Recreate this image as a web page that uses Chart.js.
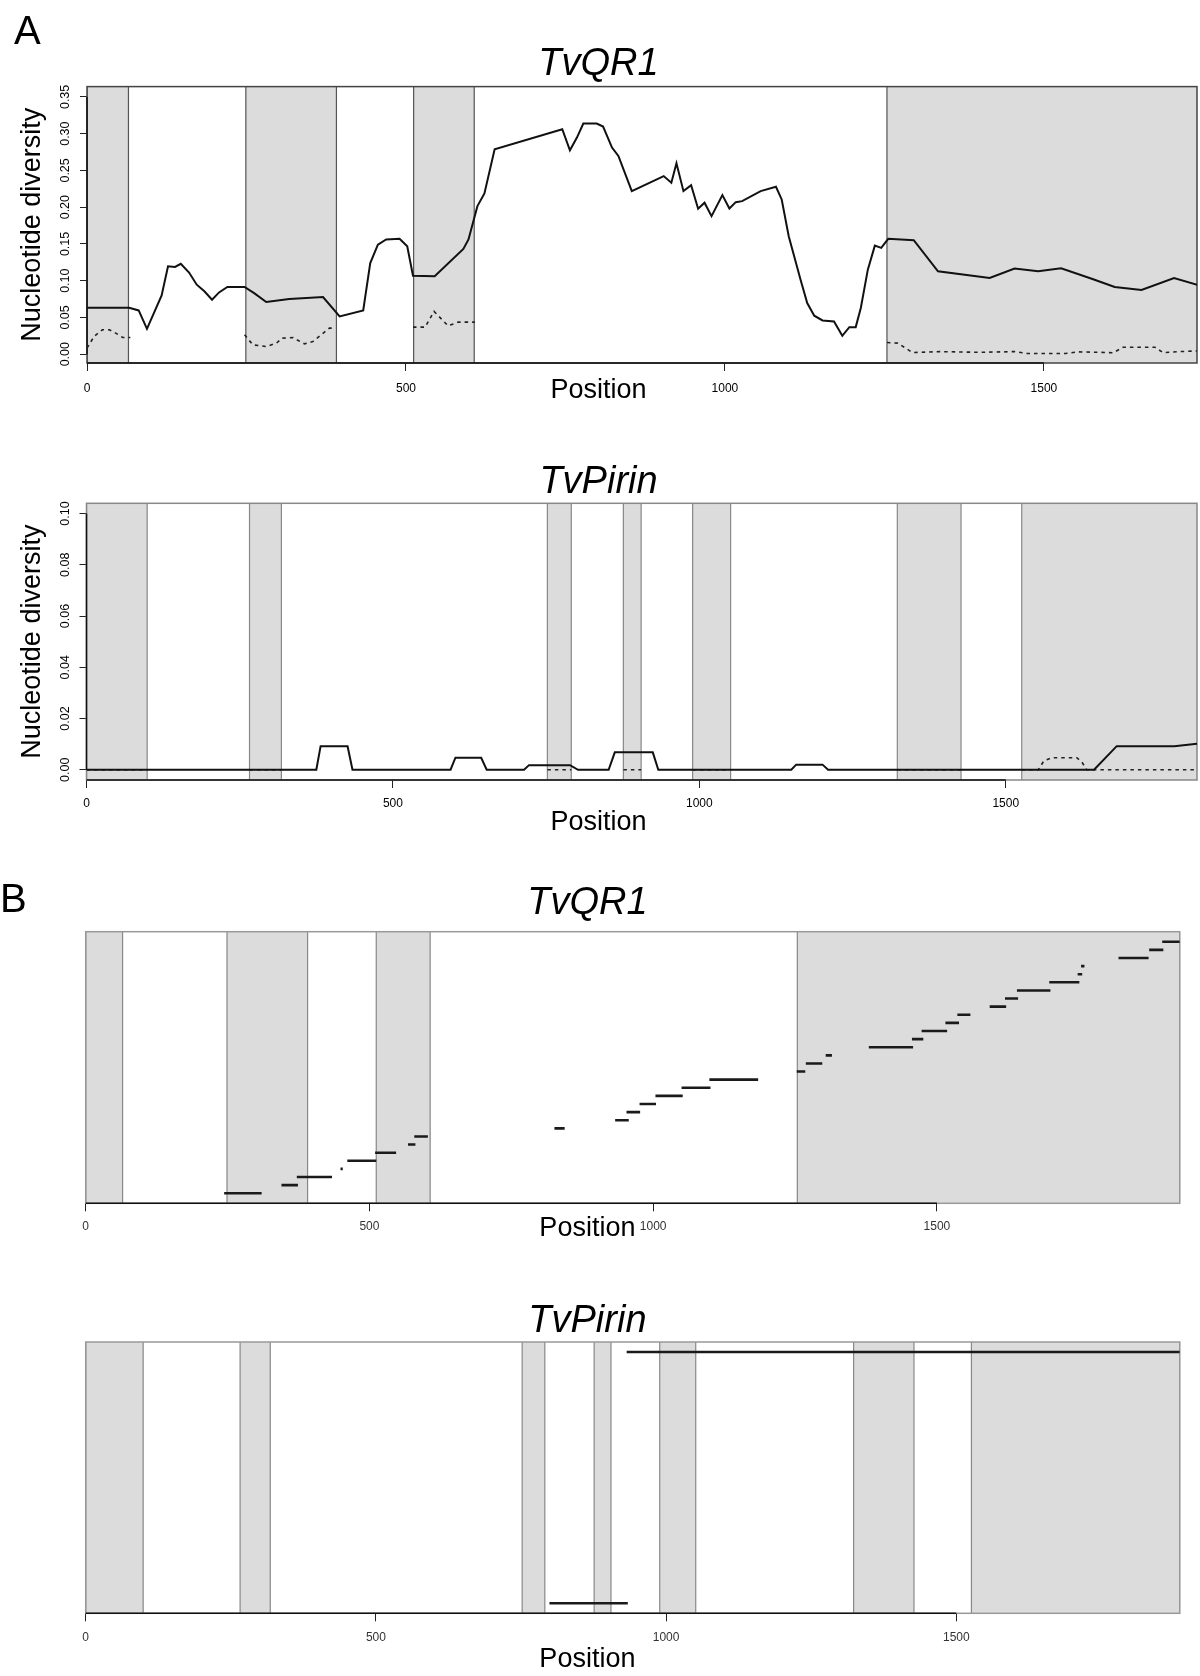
<!DOCTYPE html>
<html>
<head>
<meta charset="utf-8">
<script src="https://cdn.jsdelivr.net/npm/chart.js@4.4.1/dist/chart.umd.min.js"></script>
<style>
  html, body { margin: 0; padding: 0; background: #fff; }
  body { width: 1200px; height: 1676px; position: relative; overflow: hidden; font-family: "Liberation Sans", Arial, sans-serif; }
  .box { position: absolute; left: 0; width: 1200px; }
  .boxB { position: absolute; left: -5px; width: 1205px; }
  .tag { position: absolute; font-size: 40px; line-height: 40px; color: #000; }
</style>
</head>
<body>
<div class="box" style="top:0px; height:420px"><canvas id="qr1Diversity" width="1200" height="420"></canvas></div>
<div class="box" style="top:420px; height:440px"><canvas id="pirinDiversity" width="1200" height="440"></canvas></div>
<div class="boxB" style="top:860px; height:400px"><canvas id="qr1Blocks" width="1205" height="400"></canvas></div>
<div class="boxB" style="top:1260px; height:416px"><canvas id="pirinBlocks" width="1205" height="416"></canvas></div>
<div class="tag" style="left:14px; top:10px">A</div>
<div class="tag" style="left:0px; top:878px">B</div>
<script>
'use strict';

// ---- TvQR1: nucleotide diversity (solid line)
const qr1Pos = [0, 66, 81, 94, 117, 127, 138, 147, 160, 172, 184, 196, 207, 220, 247, 262, 281, 317, 370, 396,
  433, 444, 456, 469, 490, 502, 511, 545, 590, 598, 612, 623, 639, 745, 757, 768, 778, 799, 809, 823,
  833, 854, 904, 916, 924, 935, 947, 958, 968, 979, 996, 1007, 1017, 1027, 1056, 1080, 1089, 1100, 1119, 1129,
  1140, 1153, 1171, 1184, 1195, 1205, 1213, 1224, 1235, 1245, 1256, 1296, 1334, 1415, 1454, 1491, 1527, 1575, 1611, 1653,
  1704, 1743];
const qr1Solid = [0.063, 0.063, 0.0595, 0.0345, 0.080, 0.1195, 0.1187, 0.123, 0.111, 0.0945, 0.0855, 0.074, 0.084, 0.0914, 0.0914, 0.083, 0.071, 0.075, 0.0777, 0.0513,
  0.0595, 0.124, 0.149, 0.156, 0.157, 0.1468, 0.1068, 0.1059, 0.1432, 0.156, 0.2014, 0.2187, 0.2787, 0.306, 0.2773, 0.2947, 0.3138, 0.3138, 0.3097, 0.281,
  0.2696, 0.2218, 0.2423, 0.2333, 0.2596, 0.2218, 0.23, 0.1978, 0.206, 0.1877, 0.2164, 0.1982, 0.2068, 0.2082, 0.2218, 0.2278, 0.2105, 0.1605, 0.1, 0.0696,
  0.0523, 0.0459, 0.0445, 0.025, 0.0368, 0.0368, 0.0628, 0.115, 0.1477, 0.1446, 0.1569, 0.155, 0.1127, 0.1037, 0.1164, 0.1127, 0.1168, 0.1027, 0.0914, 0.0873,
  0.1037, 0.0936];

// TvQR1: dashed line, only inside the shaded regions (null = gap)
const qr1DashPos = [0, 11, 24, 35, 45, 56, 68, 150, 247, 260, 281, 297, 306, 323, 341, 354, 367, 380, 389, 450,
  511, 530, 544, 566, 582, 608, 900, 1254, 1271, 1294, 1337, 1400, 1454, 1474, 1533, 1554, 1609, 1624, 1674, 1687,
  1713, 1743];
const qr1Dashed = [0.0082, 0.024, 0.0332, 0.0332, 0.0287, 0.0227, 0.0227, null, 0.0263, 0.0127, 0.0104, 0.015, 0.0218, 0.0225, 0.014, 0.0172, 0.0263, 0.0354, 0.0354, null,
  0.0368, 0.0368, 0.0582, 0.0386, 0.0436, 0.0436, null, 0.0159, 0.015, 0.0022, 0.0035, 0.0025, 0.0035, 0.0009, 0.0009, 0.0032, 0.002, 0.0095, 0.0095, 0.002,
  0.0035, 0.0045];

// ---- TvPirin: nucleotide diversity
const pirPos = [0, 375, 382, 426, 434, 594, 602, 644, 653, 714, 722, 789, 802, 852, 862, 924, 933, 1150, 1158, 1201, 1210, 1644, 1681, 1775, 1812];
const pirSolid = [0, 0, 0.0092, 0.0092, 0, 0, 0.0047, 0.0047, 0, 0, 0.0018, 0.0018, 0, 0, 0.0068, 0.0068, 0, 0, 0.002, 0.002, 0, 0, 0.0092, 0.0092, 0.0102];
const pirDashPos = [0, 99, 180, 266, 318, 500, 752, 791, 840, 876, 905, 950, 989, 1051, 1200, 1323, 1427, 1480, 1526, 1553, 1562, 1575, 1616, 1625, 1632, 1812];
const pirDashed = [0, 0, null, 0, 0, null, 0, 0, null, 0, 0, null, 0, 0, null, 0, 0, null, 0, 0, 0.0034, 0.0047, 0.0047, 0.0027, 0, 0];

// ---- shaded regions
const qr1RegionStart = [0, 249, 512, 1254];
const qr1RegionEnd = [65, 391, 607, 1928];
const pirRegionStart = [0, 266, 752, 876, 989, 1323, 1526];
const pirRegionEnd = [99, 318, 791, 905, 1051, 1427, 1885];

// ---- panel B: blocks (each one on its own row, rows 1..n)
const qr1BlockStart = [244, 345, 372, 449, 461, 510, 568, 579, 826, 933, 953, 976, 1004, 1050, 1099, 1253,
  1269, 1304, 1380, 1456, 1473, 1515, 1536, 1593, 1620, 1641, 1698, 1748, 1754, 1820, 1874, 1897];
const qr1BlockEnd = [310, 374, 434, 453, 512, 547, 581, 603, 844, 957, 977, 1005, 1052, 1101, 1185, 1268,
  1298, 1315, 1458, 1476, 1518, 1539, 1559, 1622, 1643, 1700, 1751, 1756, 1760, 1873, 1899, 1928];
const pirBlockStart = [799, 932];
const pirBlockEnd = [934, 1885];

// ---- tick labels
const positionTicks = [0, 500, 1000, 1500];
const qr1DivTicks = [0, 0.05, 0.10, 0.15, 0.20, 0.25, 0.30, 0.35];
const pirDivTicks = [0, 0.02, 0.04, 0.06, 0.08, 0.10];

Chart.defaults.font.family = '"Liberation Sans", Arial, sans-serif';
Chart.defaults.color = '#000';

// dibuja regiones sombreadas, marco y lineas de eje
const regionPlugin = {
  id: 'regions',
  beforeDatasetsDraw(chart, args, opts) {
    const { ctx, chartArea: a, scales: { x, y } } = chart;
    ctx.save();
    ctx.beginPath();
    ctx.rect(a.left, a.top, a.right - a.left, a.bottom - a.top);
    ctx.clip();
    opts.starts.forEach((s, i) => {
      const x0 = x.getPixelForValue(s);
      const x1 = x.getPixelForValue(opts.ends[i]);
      ctx.fillStyle = '#dcdcdc';
      ctx.fillRect(x0, a.top, x1 - x0, a.bottom - a.top);
      ctx.strokeStyle = opts.edge;
      ctx.lineWidth = 1.2;
      [x0, x1].forEach(px => {
        ctx.beginPath();
        ctx.moveTo(px, a.top);
        ctx.lineTo(px, a.bottom);
        ctx.stroke();
      });
    });
    ctx.restore();

    ctx.save();
    ctx.strokeStyle = opts.frame;
    ctx.lineWidth = 1.5;
    ctx.strokeRect(a.left, a.top, a.right - a.left, a.bottom - a.top);
    ctx.strokeStyle = '#111';
    const xt = x.ticks;
    ctx.beginPath();
    ctx.moveTo(x.getPixelForValue(xt[0].value), a.bottom);
    ctx.lineTo(x.getPixelForValue(xt[xt.length - 1].value), a.bottom);
    ctx.stroke();
    if (opts.yLine) {
      const yt = y.ticks;
      ctx.beginPath();
      ctx.moveTo(a.left, y.getPixelForValue(yt[0].value));
      ctx.lineTo(a.left, y.getPixelForValue(yt[yt.length - 1].value));
      ctx.stroke();
    }
    ctx.restore();
  }
};

function points(xs, ys) {
  return xs.map((p, i) => ({ x: p, y: ys[i] }));
}

function blockPoints(starts, ends) {
  const out = [];
  starts.forEach((s, i) => {
    out.push({ x: s, y: i + 1 }, { x: ends[i], y: i + 1 }, { x: ends[i], y: null });
  });
  return out;
}

function fixedTicks(values) {
  return scale => { scale.ticks = values.map(v => ({ value: v })); };
}

function buildChart(id, o) {
  const ctx = document.getElementById(id).getContext('2d');
  return new Chart(ctx, {
    type: 'line',
    data: { datasets: o.datasets },
    plugins: [regionPlugin],
    options: {
      responsive: false,
      animation: false,
      devicePixelRatio: 1,
      layout: { padding: { left: 0, right: o.padRight, top: 0, bottom: o.padBottom } },
      elements: { point: { radius: 0 }, line: { tension: 0 } },
      plugins: {
        legend: { display: false },
        tooltip: { enabled: false },
        title: {
          display: true, text: o.title, color: '#000',
          font: { size: 38, style: 'italic', weight: 'normal', lineHeight: 1.1 },
          padding: { top: o.titleTop, bottom: o.titleBottom }
        },
        // etiqueta "Position" centrada en la figura, como en el original
        subtitle: {
          display: true, position: 'bottom', text: 'Position', color: '#000',
          font: { size: 27, weight: 'normal', lineHeight: 1.2 },
          padding: { top: o.posTop, bottom: 0 }
        },
        regions: { starts: o.regStart, ends: o.regEnd, frame: o.frame, edge: o.edge, yLine: o.yLine }
      },
      scales: {
        x: {
          type: 'linear', min: 0, max: o.xMax,
          afterBuildTicks: fixedTicks(positionTicks),
          afterFit: s => { s.height = o.xHeight; },
          ticks: {
            autoSkip: false, maxRotation: 0,
            padding: o.xTickPad, color: o.tickColor, font: { size: 12 },
            callback: v => String(v)
          },
          grid: { drawOnChartArea: false, tickLength: 8, color: '#222', lineWidth: 1 },
          border: { display: false }
        },
        y: o.y
      }
    }
  });
}

function diversityAxis(min, max, ticks, width, pad) {
  return {
    min: min, max: max,
    afterBuildTicks: fixedTicks(ticks),
    afterFit: s => { s.width = width; },
    ticks: {
      autoSkip: false, minRotation: 90, maxRotation: 90, crossAlign: 'center',
      padding: pad, color: '#000', font: { size: 12.5 },
      callback: v => v.toFixed(2)
    },
    grid: { drawOnChartArea: false, tickLength: 7, color: '#222', lineWidth: 1 },
    border: { display: false },
    title: {
      display: true, text: 'Nucleotide diversity', color: '#000',
      font: { size: 27, lineHeight: 1.2 }, padding: { top: 16.3, bottom: 0 }
    }
  };
}

function blockAxis(min, max) {
  return {
    min: min, max: max,
    afterFit: s => { s.width = 90.7; },
    ticks: { display: false },
    grid: { display: false },
    border: { display: false }
  };
}

const solidStyle = { borderColor: '#111', borderWidth: 2, spanGaps: false };
const dashStyle = { borderColor: '#222', borderWidth: 1.6, borderDash: [3.5, 4], spanGaps: false };
const blockStyle = { borderColor: '#1a1a1a', borderWidth: 2.6, spanGaps: false };

buildChart('qr1Diversity', {
  title: 'TvQR1', titleTop: 43.1, titleBottom: 1.7,
  padRight: 3, padBottom: 12.8, xHeight: 36, xTickPad: 10, posTop: -24.2,
  xMax: 1740, tickColor: '#000',
  regStart: qr1RegionStart, regEnd: qr1RegionEnd, frame: '#444', edge: '#555', yLine: true,
  y: diversityAxis(-0.012, 0.364, qr1DivTicks, 87, 2.5),
  datasets: [
    Object.assign({ data: points(qr1DashPos, qr1Dashed) }, dashStyle),
    Object.assign({ data: points(qr1Pos, qr1Solid) }, solidStyle)
  ]
});

buildChart('pirinDiversity', {
  title: 'TvPirin', titleTop: 41.5, titleBottom: 0,
  padRight: 3, padBottom: 20.8, xHeight: 30, xTickPad: 8.8, posTop: -3.2,
  xMax: 1812, tickColor: '#000',
  regStart: pirRegionStart, regEnd: pirRegionEnd, frame: '#888', edge: '#888', yLine: true,
  y: diversityAxis(-0.004, 0.104, pirDivTicks, 86.5, 1.3),
  datasets: [
    Object.assign({ data: points(pirPos, pirSolid) }, solidStyle),
    Object.assign({ data: points(pirDashPos, pirDashed) }, dashStyle)
  ]
});

buildChart('qr1Blocks', {
  title: 'TvQR1', titleTop: 22.1, titleBottom: 7.8,
  padRight: 20.2, padBottom: 14.8, xHeight: 31, xTickPad: 8.2, posTop: -21.5,
  xMax: 1928, tickColor: '#333',
  regStart: qr1RegionStart, regEnd: qr1RegionEnd, frame: '#999', edge: '#888', yLine: false,
  y: blockAxis(-0.24, 33.24),
  datasets: [Object.assign({ data: blockPoints(qr1BlockStart, qr1BlockEnd) }, blockStyle)]
});

buildChart('pirinBlocks', {
  title: 'TvPirin', titleTop: 40.2, titleBottom: 0,
  padRight: 20.2, padBottom: 0, xHeight: 32, xTickPad: 8.8, posTop: -1.7,
  xMax: 1885, tickColor: '#333',
  regStart: pirRegionStart, regEnd: pirRegionEnd, frame: '#999', edge: '#888', yLine: false,
  y: blockAxis(0.96, 2.04),
  datasets: [Object.assign({ data: blockPoints(pirBlockStart, pirBlockEnd) }, blockStyle)]
});
</script>
</body>
</html>
